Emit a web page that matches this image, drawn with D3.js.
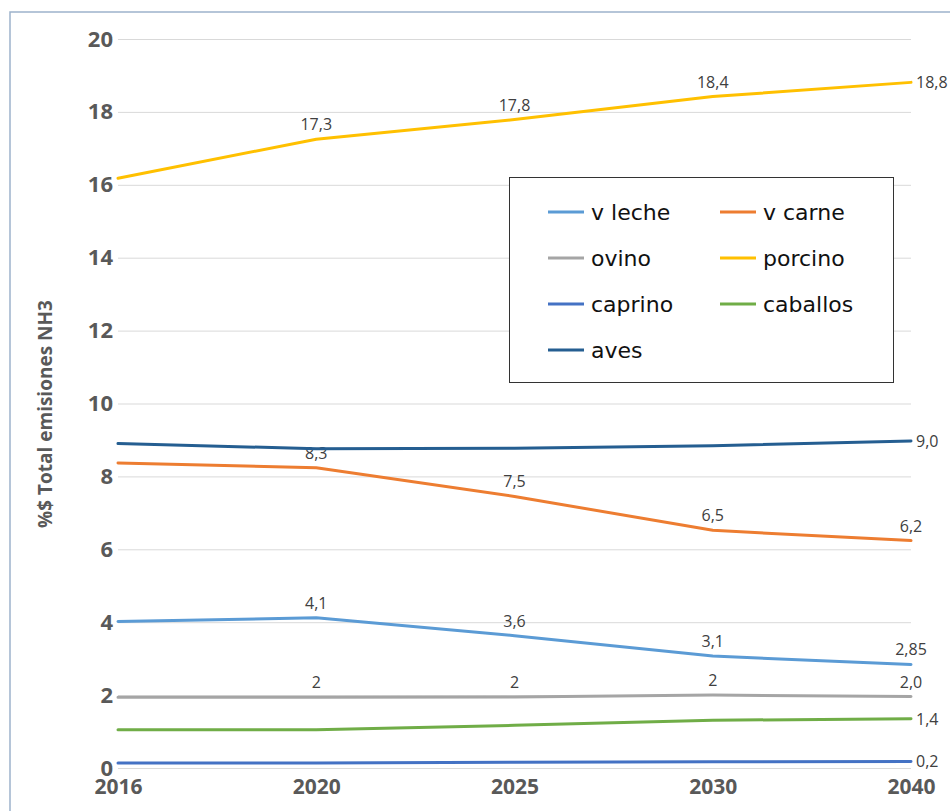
<!DOCTYPE html>
<html>
<head>
<meta charset="utf-8">
<script src="https://cdn.jsdelivr.net/npm/d3@7"></script>
<style>
  body { margin: 0; background: #fff; }
  svg { display: block; }
</style>
</head>
<body>
<div id="chart"></div>
<script>
// categories and series
const years = ["2016", "2020", "2025", "2030", "2040"];
const yTicks = [0, 2, 4, 6, 8, 10, 12, 14, 16, 18, 20];

const vLeche   = [4.02, 4.12, 3.63, 3.07, 2.84];
const vCarne   = [8.37, 8.24, 7.45, 6.52, 6.24];
const ovino    = [1.94, 1.94, 1.95, 2.0, 1.96];
const porcino  = [16.18, 17.25, 17.79, 18.42, 18.81];
const caprino  = [0.14, 0.14, 0.16, 0.17, 0.18];
const caballos = [1.05, 1.05, 1.17, 1.31, 1.35];
const aves     = [8.9, 8.76, 8.77, 8.84, 8.97];

// data labels shown on the chart (null = none)
const lblLeche    = [null, "4,1", "3,6", "3,1", "2,85"];
const lblCarne    = [null, "8,3", "7,5", "6,5", "6,2"];
const lblOvino    = [null, "2", "2", "2", "2,0"];
const lblPorcino  = [null, "17,3", "17,8", "18,4", "18,8"];
const lblCaprino  = [null, null, null, null, "0,2"];
const lblCaballos = [null, null, null, null, "1,4"];
const lblAves     = [null, null, null, null, "9,0"];

const series = [
  { name: "v leche",  values: vLeche,   labels: lblLeche,    color: "#5b9bd5", right: false },
  { name: "v carne",  values: vCarne,   labels: lblCarne,    color: "#ed7d31", right: false },
  { name: "ovino",    values: ovino,    labels: lblOvino,    color: "#a5a5a5", right: false },
  { name: "porcino",  values: porcino,  labels: lblPorcino,  color: "#ffc000", right: false },
  { name: "caprino",  values: caprino,  labels: lblCaprino,  color: "#4472c4", right: true },
  { name: "caballos", values: caballos, labels: lblCaballos, color: "#70ad47", right: true },
  { name: "aves",     values: aves,     labels: lblAves,     color: "#255e91", right: true }
];

const width = 950, height = 811;
const margin = { left: 118, right: 39, top: 39, bottom: 43 };

const svg = d3.select("#chart").append("svg")
    .attr("width", width)
    .attr("height", height);

// outer chart frame
svg.append("rect")
    .attr("x", 10).attr("y", 12)
    .attr("width", 960).attr("height", 820)
    .attr("fill", "none")
    .attr("stroke", "#9db3cb")
    .attr("stroke-width", 1.5);

const x = d3.scalePoint()
    .domain(years)
    .range([margin.left, width - margin.right]);

const y = d3.scaleLinear()
    .domain([0, 20])
    .range([height - margin.bottom, margin.top]);

// gridlines
svg.append("g")
    .selectAll("line")
    .data(yTicks)
    .join("line")
    .attr("x1", margin.left)
    .attr("x2", width - margin.right)
    .attr("y1", d => y(d) + 0.5)
    .attr("y2", d => y(d) + 0.5)
    .attr("stroke", "#d9d9d9")
    .attr("stroke-width", 1);

// y axis
const yAxis = svg.append("g")
    .attr("transform", `translate(${margin.left},0)`)
    .call(d3.axisLeft(y).tickValues(yTicks).tickSize(0).tickPadding(5));
yAxis.select(".domain").remove();
yAxis.selectAll("text")
    .attr("fill", "#595959")
    .style("font-family", "'Open Sans', sans-serif")
    .style("font-weight", "bold")
    .style("font-size", "22px");

// x axis
const xAxis = svg.append("g")
    .attr("transform", `translate(0,${height - margin.bottom})`)
    .call(d3.axisBottom(x).tickSize(0).tickPadding(11));
xAxis.select(".domain").remove();
xAxis.selectAll("text")
    .attr("fill", "#595959")
    .style("font-family", "'Open Sans', sans-serif")
    .style("font-weight", "bold")
    .style("font-size", "21px");

// y axis title
svg.append("text")
    .attr("transform", "translate(52,414) rotate(-90)")
    .attr("text-anchor", "middle")
    .attr("fill", "#595959")
    .style("font-family", "'Open Sans', sans-serif")
    .style("font-weight", "bold")
    .style("font-size", "19px")
    .text("%$ Total emisiones NH3");

// data labels (drawn under the lines)
const labelG = svg.append("g")
    .style("font-family", "'Open Sans', sans-serif")
    .style("font-size", "16px")
    .attr("fill", "#404040");

series.forEach(s => {
  s.labels.forEach((t, i) => {
    if (t === null) return;
    const px = x(years[i]), py = y(s.values[i]);
    const isLast = i === years.length - 1;
    if (isLast && (s.right || s.name === "porcino")) {
      labelG.append("text")
          .attr("x", px + 5)
          .attr("y", py + 6)
          .attr("text-anchor", "start")
          .text(t);
    } else {
      labelG.append("text")
          .attr("x", px)
          .attr("y", py - 9)
          .attr("text-anchor", "middle")
          .text(t);
    }
  });
});

// lines
const line = d3.line()
    .x((d, i) => x(years[i]))
    .y(d => y(d));

svg.append("g")
    .selectAll("path")
    .data(series)
    .join("path")
    .attr("d", d => line(d.values))
    .attr("fill", "none")
    .attr("stroke", d => d.color)
    .attr("stroke-width", 3)
    .attr("stroke-linejoin", "round")
    .attr("stroke-linecap", "round");

// legend
const legend = svg.append("g");
legend.append("rect")
    .attr("x", 509.5).attr("y", 177.5)
    .attr("width", 384).attr("height", 205)
    .attr("fill", "#fff")
    .attr("stroke", "#333")
    .attr("stroke-width", 1);

const colX = [548, 720];
const rowY = [212, 258, 304, 350];

series.forEach((s, i) => {
  const cx = colX[i % 2], cy = rowY[Math.floor(i / 2)];
  legend.append("line")
      .attr("x1", cx).attr("x2", cx + 36)
      .attr("y1", cy).attr("y2", cy)
      .attr("stroke", s.color)
      .attr("stroke-width", 3);
  legend.append("text")
      .attr("x", cx + 43)
      .attr("y", cy)
      .attr("dy", "0.35em")
      .attr("fill", "#111")
      .style("font-family", "'DejaVu Sans', sans-serif")
      .style("font-size", "22px")
      .text(s.name);
});
</script>
</body>
</html>
